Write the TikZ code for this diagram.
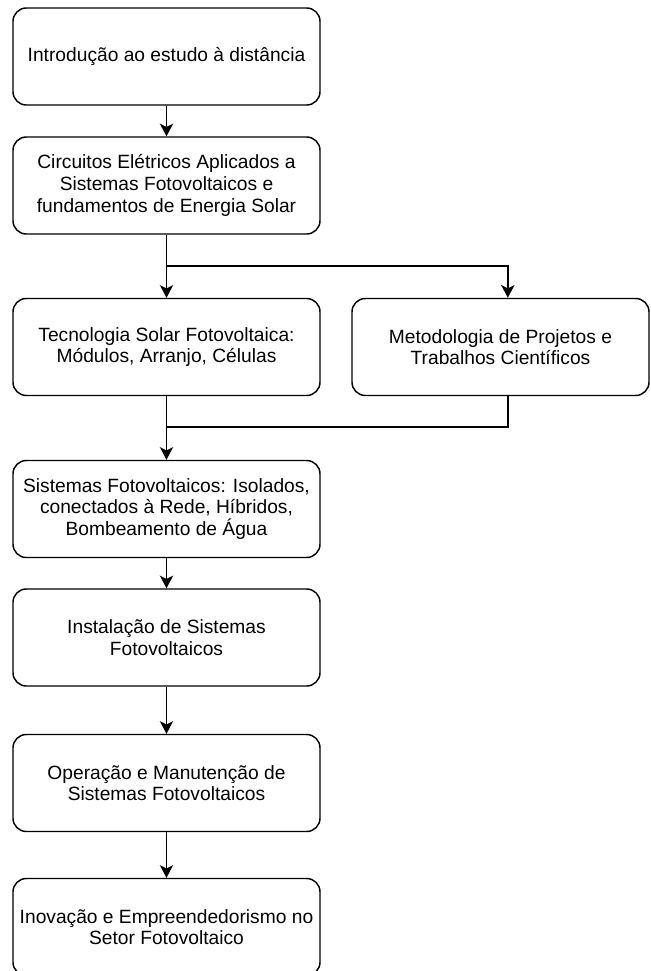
\documentclass[tikz,border=0pt]{standalone}
\usepackage{fontspec}
\setmainfont{Liberation Sans}
\usepackage{tikz}
\usetikzlibrary{arrows.meta,positioning}
\tikzset{
  etapa/.style={draw,rounded corners=10,line width=1.1pt,align=center,
    minimum width=230.25pt,minimum height=72.75pt,inner sep=0pt,
    font=\fontsize{14.4}{16.2}\selectfont},
  seta/.style={-{Stealth[length=9.5pt,width=10pt,inset=2.5pt]},line width=1.1pt}
}

\begin{document}
\begin{tikzpicture}[x=0.75pt,y=0.75pt]
\useasboundingbox (0,0) rectangle (650,-971);
% coluna principal
\node[etapa] (intro) at (166.5,-56.5) {Introdução ao estudo à distância};
\node[etapa] (circ) at (166.5,-185.5) {Circuitos Elétricos Aplicados a\\Sistemas Fotovoltaicos e\\fundamentos de Energia Solar};
\node[etapa] (tec) at (166.5,-347) {Tecnologia Solar Fotovoltaica:\\Módulos, Arranjo, Células};
\node[etapa,minimum width=222.75pt] (met) at (500.5,-347) {Metodologia de Projetos e\\Trabalhos Científicos};
\node[etapa] (sist) at (166.5,-509) {Sistemas Fotovoltaicos: Isolados,\\conectados à Rede, Híbridos,\\Bombeamento de Água};
\node[etapa] (inst) at (166.5,-637.5) {Instalação de Sistemas\\Fotovoltaicos};
\node[etapa] (oper) at (166.5,-783) {Operação e Manutenção de\\Sistemas Fotovoltaicos};
\node[etapa] (inov) at (166.5,-927) {Inovação e Empreendedorismo no\\Setor Fotovoltaico};
% ramificacao e juncao
\coordinate (split) at (166.5,-266);
\coordinate (join) at (166.5,-427);
\coordinate (metin) at ([xshift=5.5]met.north);
\coordinate (metout) at ([xshift=5.5]met.south);
\draw[seta] (intro) -- (circ);
\draw[line width=1.1pt] (circ) -- (split);
\draw[seta] (split) -- (tec);
\draw[seta] (split) -| (metin);
\draw[line width=1.1pt] (tec) -- (join);
\draw[line width=1.1pt] (metout) |- (join);
\draw[seta] (join) -- (sist);
\draw[seta] (sist) -- (inst);
\draw[seta] (inst) -- (oper);
\draw[seta] (oper) -- (inov);
\end{tikzpicture}
\end{document}
